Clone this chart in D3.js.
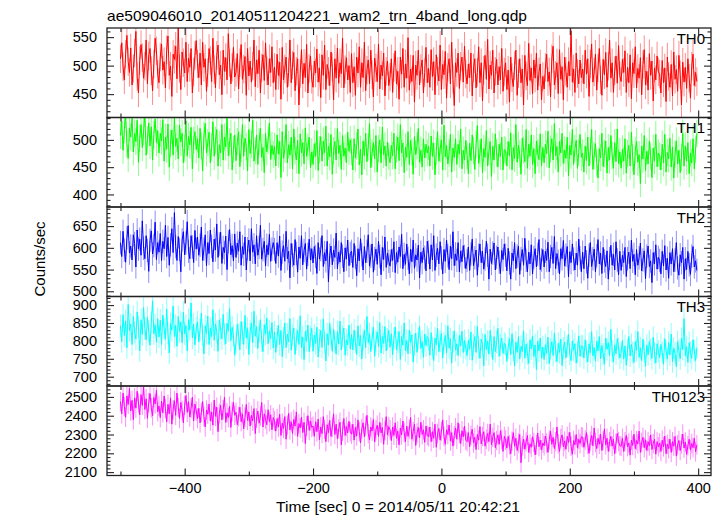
<!DOCTYPE html>
<html><head><meta charset="utf-8">
<script src="https://cdn.jsdelivr.net/npm/d3@7"></script>
<style>body{margin:0;background:#fff}svg{display:block}text{font-family:"Liberation Sans",Arial,sans-serif;fill:#000}</style>
</head><body><svg id="c" width="724" height="516"></svg>
<script>
const title = "ae509046010_20140511204221_wam2_trn_4band_long.qdp";
const xLabel = "Time [sec] 0 = 2014/05/11 20:42:21";
const yLabel = "Counts/sec";
const bandNames = ["TH0", "TH1", "TH2", "TH3", "TH0123"];
const bandColors = ["#ff0000", "#00ff00", "#0000ff", "#00ffff", "#ff00ff"];
const bandErrors = [25, 25, 27, 31, 52];
const xTickValues = [-400, -200, 0, 200, 400];
const xMinorValues = [-500, -300, -100, 100, 300];
const yDomains = [[409, 566], [377, 541], [488, 694], [674, 924], [2082, 2558]];
const yMajorTicks = [[450, 500, 550], [400, 450, 500], [500, 550, 600, 650], [700, 750, 800, 850, 900], [2100, 2200, 2300, 2400, 2500]];
const yMinorStep = [10, 10, 10, 10, 20];
const tStart = -500, tEnd = 398;

const th0 = [
512,540,498,475,520,553,507,488,531,466,495,522,560,481,452,509,537,514,478,499,545,468,517,530,491,456,503,548,526,485,
470,515,538,492,507,461,528,552,483,499,446,520,511,534,477,566,495,458,524,505,487,541,472,513,497,530,452,489,518,544,
503,479,522,466,541,497,512,455,488,530,509,472,548,493,461,518,536,484,501,449,527,490,514,475,556,505,468,497,532,480,
488,521,459,505,537,476,494,516,448,530,482,508,471,499,545,463,510,486,527,452,496,519,474,540,491,466,512,488,533,470,
497,458,520,483,506,441,532,475,494,515,462,488,545,470,501,523,456,490,512,431,486,528,468,504,479,537,452,495,517,476,
462,508,487,529,471,496,444,519,483,536,458,502,490,465,524,497,440,512,478,531,469,505,486,548,461,493,514,475,500,453,
521,470,498,448,515,487,533,462,505,479,541,456,492,510,468,527,484,445,513,496,472,538,459,501,482,522,447,490,508,465,
480,512,453,497,526,468,490,441,515,485,530,462,503,478,549,457,494,472,518,436,501,483,527,466,495,510,452,488,532,470,
495,462,528,481,507,449,519,490,473,536,458,502,484,525,443,497,512,468,541,476,430,505,488,522,460,499,515,471,534,485,
468,503,479,522,447,496,512,461,488,533,470,505,438,492,518,476,546,459,501,483,527,452,490,511,466,498,475,530,455,489,
505,458,492,436,515,479,463,500,527,448,486,512,470,494,431,518,482,465,539,474,496,451,510,478,522,457,489,503,440,481,
459,497,520,472,489,445,512,534,466,483,505,451,528,476,498,440,515,490,462,507,482,561,471,494,453,522,486,468,510,479,
494,468,527,485,512,446,503,538,471,489,520,457,496,530,475,448,511,484,523,462,499,545,478,505,453,491,517,469,535,482,
472,511,488,526,453,497,470,519,442,505,486,533,461,495,478,514,449,502,528,466,490,457,521,483,508,438,496,475,517,489,
485,452,509,470,496,437,515,481,462,502,447,524,476,493,455,518,484,431,506,471,497,460,512,478,443,499,520,465,488,472];

const th1 = [
508,534,481,519,547,493,466,522,505,541,478,512,497,536,459,503,528,486,515,549,472,500,531,489,524,463,510,538,495,517,
476,512,498,537,461,505,483,529,450,494,518,472,541,488,503,465,527,496,512,458,484,535,470,506,491,523,447,499,515,482,
502,467,521,489,443,508,530,476,495,514,458,487,533,470,499,519,452,491,476,528,463,505,487,542,471,496,512,445,483,509,
462,497,515,451,484,528,470,503,488,443,519,475,492,536,461,480,509,455,497,521,468,486,440,512,478,499,531,464,490,473,
488,452,509,474,497,431,515,466,483,528,458,491,472,505,447,520,480,463,499,438,511,476,495,456,522,470,487,505,449,478,
455,493,470,517,444,482,506,461,498,476,525,452,488,469,510,437,480,497,463,521,475,490,446,508,470,485,458,514,479,500,
478,445,502,467,489,520,454,483,436,498,471,512,460,487,530,449,476,495,465,508,441,484,500,458,523,473,489,452,496,470,
458,490,471,512,447,483,505,462,528,476,494,440,487,468,515,455,499,478,437,506,473,489,521,459,481,450,502,467,492,476,
488,452,507,470,494,436,479,515,461,483,500,445,527,469,490,456,476,510,441,485,468,502,455,492,474,520,447,481,463,499,
471,438,494,462,509,480,446,491,526,457,475,502,440,484,468,517,452,479,497,433,488,463,511,476,450,492,470,505,445,482,
480,452,497,471,513,445,486,466,528,459,490,474,437,503,481,460,519,448,492,470,509,455,484,438,498,476,464,511,452,486,
458,492,475,516,449,483,502,463,530,471,488,441,497,476,512,457,481,466,505,434,490,472,519,455,484,499,448,477,510,468,
476,441,489,462,505,452,480,519,446,471,493,458,430,484,467,512,451,475,498,439,486,463,508,472,448,495,460,520,456,478,
448,483,461,502,439,475,490,452,514,467,436,481,497,459,473,420,488,465,508,444,479,456,498,470,431,485,462,510,451,476,
470,445,492,458,510,441,477,465,503,450,487,430,474,498,456,481,440,468,512,452,489,461,495,438,476,458,502,447,483,512];

const th2 = [
612,580,638,595,567,623,651,588,604,572,630,610,556,641,597,620,583,662,599,575,628,594,546,617,639,586,605,659,573,612,
590,633,571,615,598,652,580,624,560,607,644,589,681,603,571,626,596,545,618,637,584,611,660,592,575,628,602,566,640,597,
625,583,606,648,571,597,630,559,612,587,641,603,568,620,595,655,578,609,636,564,601,589,627,550,614,642,584,605,570,632,
578,611,592,637,560,603,585,625,549,598,618,570,644,590,607,563,628,583,601,652,574,596,615,558,606,584,631,569,597,612,
596,564,612,581,627,548,590,605,569,638,575,592,531,610,583,560,619,587,544,602,576,628,561,594,610,551,585,620,572,598,
565,603,580,541,612,574,596,628,557,589,570,615,522,583,604,561,595,578,634,552,590,567,612,581,545,600,574,618,559,587,
592,555,610,578,536,598,570,621,584,549,603,566,592,630,558,581,609,544,575,597,562,615,580,538,601,573,625,555,588,569,
558,596,571,614,543,589,567,602,580,631,552,585,562,609,576,540,597,568,618,553,584,572,606,531,590,566,600,578,547,615,
590,551,607,572,628,548,583,599,563,614,577,540,596,569,618,582,550,604,575,637,559,586,571,612,545,593,568,605,580,552,
571,602,548,586,620,559,577,595,537,583,609,566,592,551,574,615,583,528,597,564,588,611,549,578,602,567,541,594,573,609,
583,547,599,565,528,588,570,612,552,581,604,539,575,596,560,622,571,545,590,563,607,540,578,598,556,585,619,550,572,596,
556,592,571,613,545,580,601,564,626,552,587,569,540,598,575,617,558,583,603,533,591,566,609,574,549,588,560,620,577,545,
590,552,604,568,530,583,612,557,575,597,545,582,619,563,588,541,601,570,557,593,528,575,606,560,585,549,614,572,538,592,
548,583,566,601,534,575,590,552,618,569,585,538,596,560,577,611,547,572,593,529,581,604,557,570,520,589,563,607,551,578,
571,540,592,558,605,549,576,530,589,563,598,545,572,612,554,537,584,566,601,528,575,550,592,561,539,581,603,556,570,548];

const th3 = [
842,798,873,815,856,781,902,829,847,790,868,824,805,881,840,772,859,818,893,835,803,866,827,788,851,912,820,845,796,862,
811,858,790,872,834,805,889,821,766,848,830,897,812,843,785,868,826,853,795,880,820,843,772,859,831,906,808,847,789,836,
853,797,831,878,815,764,842,820,869,790,835,812,887,802,847,826,771,858,833,806,874,819,792,849,827,890,801,838,815,760,
797,846,818,775,854,822,790,871,808,835,762,827,850,795,883,813,840,779,826,859,801,770,845,819,864,792,828,806,851,780,
825,768,812,843,790,829,756,808,850,781,819,797,862,774,815,836,762,803,829,790,870,781,811,748,826,799,844,770,812,835,
771,816,793,838,755,802,829,782,861,797,744,820,788,849,809,771,833,798,763,826,791,855,775,812,836,760,803,789,844,777,
818,775,830,797,762,842,786,815,749,803,829,781,868,795,820,770,808,838,757,799,825,784,851,766,812,793,840,772,805,829,
782,820,761,806,839,775,797,826,748,812,788,850,772,801,764,830,795,817,741,789,822,768,806,840,779,798,754,819,787,812,
804,760,823,781,745,808,789,836,770,799,821,752,793,815,766,842,780,806,738,797,828,774,792,759,815,786,827,768,801,780,
759,802,777,825,746,788,812,768,840,782,751,805,790,730,818,776,799,763,829,785,748,812,770,796,835,757,789,808,765,793,
790,743,781,806,762,820,775,730,796,768,812,749,785,770,828,752,791,765,737,803,778,814,756,789,720,799,772,808,751,783,
748,789,765,810,737,776,798,759,822,771,742,793,768,805,731,780,797,752,786,818,763,745,800,774,792,738,769,814,757,786,
785,752,803,770,741,792,767,826,758,781,744,799,772,812,750,787,763,735,808,776,795,758,832,770,741,789,764,806,779,752,
768,801,749,786,732,775,812,758,790,767,740,798,773,826,754,781,745,805,770,729,788,761,799,776,751,810,766,738,792,771,
753,790,768,735,806,772,749,795,761,819,742,780,765,728,798,773,750,807,776,862,759,784,740,795,768,751,803,772,745,781];

const th0123 = [
2475,2410,2520,2448,2392,2505,2460,2545,2425,2482,2378,2495,2440,2530,2468,2405,2512,2455,2560,2433,2490,2386,2470,2518,2442,2400,2497,2463,2535,2421,
2452,2390,2478,2415,2505,2437,2368,2460,2410,2495,2355,2432,2480,2402,2520,2445,2385,2470,2428,2362,2455,2507,2418,2475,2393,2440,2498,2372,2462,2425,
2385,2440,2362,2418,2475,2395,2340,2430,2408,2462,2372,2420,2350,2483,2397,2445,2315,2412,2455,2378,2432,2498,2365,2415,2390,2450,2338,2422,2470,2402,
2418,2352,2395,2445,2368,2410,2330,2392,2460,2375,2420,2345,2402,2372,2438,2305,2388,2425,2360,2398,2470,2340,2410,2382,2352,2432,2368,2405,2325,2390,
2372,2318,2385,2340,2408,2295,2360,2332,2395,2275,2350,2412,2325,2368,2305,2380,2345,2420,2290,2358,2335,2392,2310,2365,2252,2345,2400,2322,2372,2338,
2345,2290,2368,2315,2382,2272,2340,2305,2395,2328,2262,2352,2310,2375,2290,2338,2410,2300,2355,2278,2330,2365,2245,2318,2385,2295,2342,2308,2370,2315,
2302,2355,2270,2338,2292,2378,2315,2255,2330,2362,2288,2345,2402,2305,2272,2340,2318,2380,2260,2325,2350,2290,2365,2308,2338,2248,2322,2395,2298,2342,
2325,2268,2340,2295,2362,2280,2318,2245,2335,2298,2372,2310,2262,2345,2290,2328,2390,2275,2315,2355,2242,2308,2338,2282,2365,2300,2325,2258,2345,2295,
2288,2340,2262,2315,2280,2355,2232,2305,2332,2270,2318,2378,2290,2248,2325,2300,2350,2265,2310,2238,2295,2335,2275,2362,2305,2252,2320,2288,2345,2270,
2262,2310,2235,2295,2328,2255,2285,2220,2300,2270,2342,2250,2290,2315,2238,2275,2305,2262,2355,2245,2285,2310,2230,2268,2298,2248,2320,2275,2210,2290,
2270,2228,2290,2245,2198,2265,2310,2238,2280,2215,2255,2300,2150,2240,2275,2222,2262,2295,2205,2250,2232,2288,2258,2192,2245,2308,2235,2270,2218,2255,
2240,2292,2255,2205,2272,2318,2248,2285,2225,2262,2340,2250,2210,2278,2298,2235,2265,2222,2290,2258,2312,2238,2195,2268,2245,2300,2228,2275,2252,2288,
2285,2232,2270,2310,2248,2200,2265,2295,2240,2335,2258,2225,2280,2248,2302,2215,2268,2330,2245,2280,2210,2262,2290,2238,2275,2198,2255,2305,2262,2240,
2238,2280,2210,2262,2295,2235,2255,2190,2270,2242,2302,2225,2268,2250,2318,2205,2258,2285,2230,2272,2215,2262,2240,2298,2220,2252,2275,2195,2262,2235,
2255,2210,2270,2235,2292,2198,2248,2225,2275,2205,2262,2238,2290,2185,2245,2268,2215,2250,2302,2228,2260,2195,2240,2275,2218,2252,2230,2280,2208,2245];

const seriesList = [th0, th1, th2, th3, th0123];

// layout
const plotLeft = 107, plotRight = 711, plotTop = 28, panelH = 89.5;
const svg = d3.select("#c");
const x = d3.scaleLinear().domain([-521, 420]).range([plotLeft, plotRight]);
const frameColor = "#222";

svg.append("text").attr("x", 107).attr("y", 20.5).attr("font-size", 14.5)
  .attr("textLength", 420).attr("lengthAdjust", "spacingAndGlyphs").text(title);

seriesList.forEach((vals, i) => {
  const top = plotTop + i * panelH, bot = top + panelH;
  const y = d3.scaleLinear().domain(yDomains[i]).range([bot, top]);
  const g = svg.append("g");
  const clipId = "clip" + i;
  svg.append("clipPath").attr("id", clipId).append("rect")
    .attr("x", plotLeft).attr("y", top).attr("width", plotRight - plotLeft).attr("height", panelH);
  const step = (tEnd - tStart) / (vals.length - 1);
  const tOf = k => tStart + k * step;
  const err = bandErrors[i];
  const data = g.append("g").attr("clip-path", `url(#${clipId})`);
  data.append("g").selectAll("line").data(vals).join("line")
    .attr("x1", (d, k) => x(tOf(k))).attr("x2", (d, k) => x(tOf(k)))
    .attr("y1", d => y(d - err)).attr("y2", d => y(d + err))
    .attr("stroke", bandColors[i]).attr("stroke-opacity", 0.45).attr("stroke-width", 1);
  const line = d3.line().x((d, k) => x(tOf(k))).y(d => y(d));
  data.append("path").datum(vals)
    .attr("fill", "none").attr("stroke", bandColors[i]).attr("stroke-width", 1)
    .attr("d", line);

  const [d0, d1] = yDomains[i];
  const st = yMinorStep[i];
  const minor = d3.range(Math.ceil(d0 / st) * st, d1, st).filter(v => !yMajorTicks[i].includes(v));

  const styleAxis = sel => {
    sel.select(".domain").remove();
    sel.selectAll("line").attr("stroke", frameColor).attr("stroke-width", 1.1);
    sel.selectAll("text").attr("font-size", 14.5).attr("font-family", '"Liberation Sans",Arial,sans-serif').attr("fill", "#000");
  };
  g.append("g").attr("transform", `translate(${plotLeft},0)`)
    .call(d3.axisLeft(y).tickValues(yMajorTicks[i]).tickSize(-7).tickPadding(10).tickFormat(d3.format("d"))).call(styleAxis);
  g.append("g").attr("transform", `translate(${plotLeft},0)`)
    .call(d3.axisLeft(y).tickValues(minor).tickSize(-3.5).tickFormat("")).call(styleAxis);
  g.append("g").attr("transform", `translate(${plotRight},0)`)
    .call(d3.axisRight(y).tickValues(yMajorTicks[i]).tickSize(-7).tickFormat("")).call(styleAxis);
  g.append("g").attr("transform", `translate(${plotRight},0)`)
    .call(d3.axisRight(y).tickValues(minor).tickSize(-3.5).tickFormat("")).call(styleAxis);
  g.append("g").attr("transform", `translate(0,${top})`)
    .call(d3.axisTop(x).tickValues(xTickValues).tickSize(-7).tickFormat("")).call(styleAxis);
  g.append("g").attr("transform", `translate(0,${top})`)
    .call(d3.axisTop(x).tickValues(xMinorValues).tickSize(-4).tickFormat("")).call(styleAxis);
  const isLast = i === seriesList.length - 1;
  g.append("g").attr("transform", `translate(0,${bot})`)
    .call(d3.axisBottom(x).tickValues(xTickValues).tickSize(-7).tickPadding(7.5)
      .tickFormat(isLast ? (v => v < 0 ? "\u2212" + Math.abs(v) : String(v)) : "")).call(styleAxis);
  g.append("g").attr("transform", `translate(0,${bot})`)
    .call(d3.axisBottom(x).tickValues(xMinorValues).tickSize(-4).tickFormat("")).call(styleAxis);

  g.append("rect").attr("x", plotLeft).attr("y", top).attr("width", plotRight - plotLeft).attr("height", panelH)
    .attr("fill", "none").attr("stroke", frameColor).attr("stroke-width", 1.3);

  g.append("text").attr("x", 705).attr("y", top + 15.5).attr("text-anchor", "end")
    .attr("font-size", 15).text(bandNames[i]);
});

svg.append("text").attr("x", 398).attr("y", 511.5).attr("text-anchor", "middle").attr("font-size", 14.5)
  .attr("textLength", 244).attr("lengthAdjust", "spacingAndGlyphs").text(xLabel);
svg.append("text").attr("transform", "translate(45,259) rotate(-90)").attr("text-anchor", "middle")
  .attr("font-size", 15).text(yLabel);
</script></body></html>
